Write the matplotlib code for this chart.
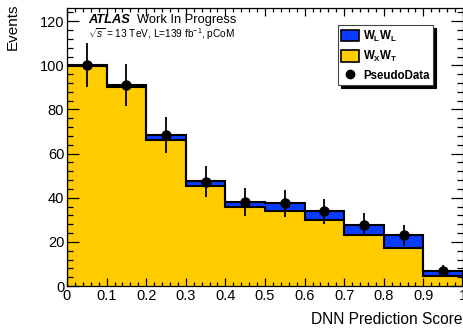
import matplotlib
matplotlib.use('Agg')
import matplotlib.pyplot as plt
from matplotlib.patches import Patch
from matplotlib.lines import Line2D
from matplotlib.ticker import MultipleLocator
import numpy as np

plt.rcParams['font.family'] = ['Liberation Sans', 'DejaVu Sans']
plt.rcParams['mathtext.fontset'] = 'custom'
plt.rcParams['mathtext.rm'] = 'Liberation Sans'
plt.rcParams['mathtext.it'] = 'Liberation Sans:italic'
plt.rcParams['mathtext.bf'] = 'Liberation Sans:bold'

# DNN score bins and stacked yields
bin_edges = [0.0, 0.1, 0.2, 0.3, 0.4, 0.5, 0.6, 0.7, 0.8, 0.9, 1.0]
wxwt = [99.6, 90.0, 66.2, 45.3, 35.7, 34.1, 29.7, 23.0, 17.3, 4.7]
wlwl = [0.4, 1.0, 2.4, 2.2, 2.4, 3.6, 4.2, 4.8, 5.8, 2.1]
pseudo_data = [100.2, 91.0, 68.5, 47.3, 38.1, 37.6, 33.8, 27.7, 23.0, 6.8]

blue = '#0a3cff'
yellow = '#ffcc00'

edges = np.array(bin_edges)
centers = 0.5 * (edges[:-1] + edges[1:])
total = np.array(wxwt) + np.array(wlwl)
err = np.sqrt(pseudo_data)

fig = plt.figure(figsize=(4.64, 3.31), dpi=100)
ax = fig.add_axes([67 / 464, 45 / 331, 396 / 464, 278 / 331])

# stacked histograms with black step outlines
ax.stairs(wxwt, edges, fill=True, color=yellow, lw=0)
ax.stairs(total, edges, baseline=wxwt, fill=True, color=blue, lw=0)
ax.stairs(wxwt, edges, color='black', lw=1.5)
ax.stairs(total, edges, color='black', lw=1.5)

ax.errorbar(centers, pseudo_data, yerr=err, fmt='o', color='black',
            markersize=6.5, elinewidth=1.3, capsize=0, zorder=5)

ax.set_xlim(0, 1)
ax.set_ylim(0, 126)
ax.xaxis.set_major_locator(MultipleLocator(0.1))
ax.xaxis.set_minor_locator(MultipleLocator(0.02))
ax.yaxis.set_major_locator(MultipleLocator(20))
ax.yaxis.set_minor_locator(MultipleLocator(4))
ax.set_xticks(np.arange(0, 1.01, 0.1))
ax.set_xticklabels([f'{v:g}' for v in np.round(np.arange(0, 1.01, 0.1), 1)])
ax.tick_params(axis='both', which='both', direction='in', top=True, right=True,
               labelsize=10.5, width=0.9)
ax.tick_params(axis='x', which='major', length=5.8, pad=2.5)
ax.tick_params(axis='x', which='minor', length=2.9)
ax.tick_params(axis='y', which='major', length=8.6, pad=2)
ax.tick_params(axis='y', which='minor', length=4.3)
for s in ax.spines.values():
    s.set_linewidth(0.9)

ax.set_xlabel('DNN Prediction Score', fontsize=11.2, ha='right')
ax.xaxis.set_label_coords(1.0, -0.095)
ax.xaxis.label.set_va('top')
# y title sits in the top-left corner, above the axes top
fig.text(13 / 464, 1 - 3 / 331, 'Events', fontsize=11, rotation=90,
         ha='center', va='top')

fig.text(88 / 464, 1 - 20 / 331, 'ATLAS', fontsize=9.3, fontweight='bold',
         fontstyle='italic', va='center', ha='left')
fig.text(137 / 464, 1 - 20 / 331, 'Work In Progress', fontsize=9.3,
         va='center', ha='left')
fig.text(88 / 464, 1 - 34 / 331, r'$\sqrt{s}$ = 13 TeV, L=139 fb$^{-1}$, pCoM',
         fontsize=7.3, va='center', ha='left')

handles = [
    Patch(facecolor=blue, edgecolor='black', lw=1.2),
    Patch(facecolor=yellow, edgecolor='black', lw=1.2),
    Line2D([], [], color='black', marker='o', markersize=6, lw=0),
]
labels = [r'$\mathbf{W_{L}W_{L}}$', r'$\mathbf{W_{X}W_{T}}$', 'PseudoData']
leg = ax.legend(handles, labels, loc='upper left',
                bbox_to_anchor=(338 / 464, 1 - 25 / 331),
                bbox_transform=fig.transFigure,
                prop={'weight': 'bold', 'size': 8.3},
                fancybox=False, edgecolor='#444444', framealpha=1,
                shadow={'color': 'black', 'alpha': 1},
                handlelength=1.5, handleheight=1.2, handletextpad=0.4,
                labelspacing=0.45, borderpad=0.3, borderaxespad=0)
leg.get_frame().set_linewidth(0.8)

fig.savefig('out.png', dpi=100)
